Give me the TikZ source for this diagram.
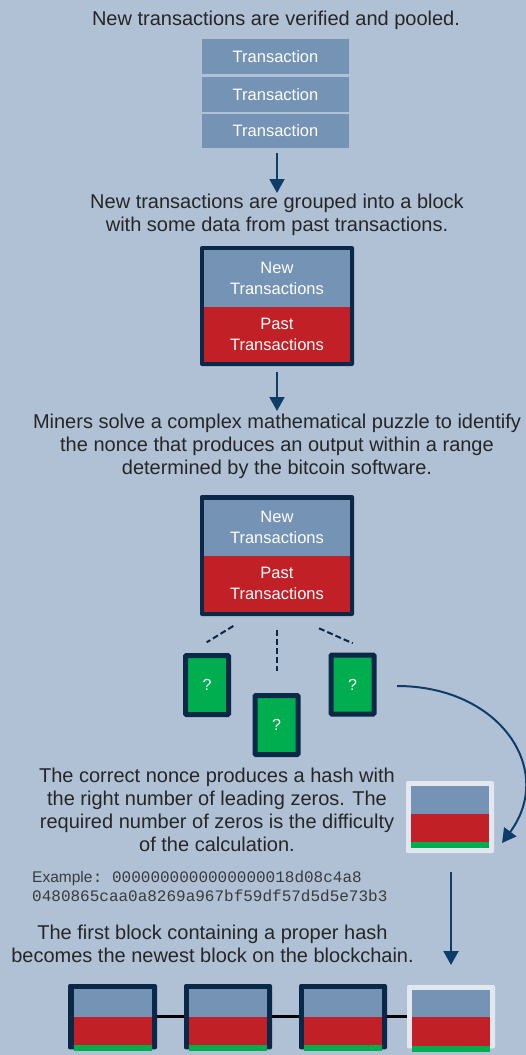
\documentclass[tikz,border=0pt]{standalone}
\usepackage{fontspec}
\setmainfont{Liberation Sans}
\setmonofont{Liberation Mono}
\usetikzlibrary{arrows.meta}
\definecolor{bgc}{HTML}{B0C1D6}
\definecolor{boxblue}{HTML}{7593B5}
\definecolor{redc}{HTML}{C02026}
\definecolor{greenc}{HTML}{00AE4F}
\definecolor{navy}{HTML}{0A2847}
\definecolor{lightc}{HTML}{E3E8F0}
\definecolor{arrc}{HTML}{0F3D69}
\definecolor{txtc}{HTML}{262626}
\definecolor{monoc}{HTML}{3A3A3A}
\begin{document}
\begin{tikzpicture}[x=1pt,y=-1pt,
  txt/.style={text=txtc, font=\fontsize{20}{23}\selectfont, align=center, inner sep=0},
  wtxt/.style={text=white, font=\fontsize{16.5}{21}\selectfont, align=center, inner sep=0},
  tbox/.style={fill=boxblue, text=white, font=\fontsize{16.5}{20}\selectfont, minimum width=147, inner sep=0},
  navyblk/.style={fill=navy, rounded corners=2pt, inner sep=0},
  lightblk/.style={fill=lightc, rounded corners=2pt, inner sep=0},
  nonce/.style={fill=greenc, draw=navy, line width=5pt, rounded corners=1pt, minimum width=43, minimum height=59, inner sep=0, text=white, font=\fontsize{16}{20}\selectfont},
  arr/.style={draw=arrc, line width=2pt, -{Triangle[width=15pt,length=14pt]}},
  guess/.style={draw=navy, line width=2pt, dash pattern=on 6pt off 3pt},
  link/.style={draw=black, line width=3pt},
  monot/.style={text=monoc, inner sep=0, anchor=base west, font=\fontsize{16}{20}\ttfamily}
]
\fill[bgc] (0,0) rectangle (526,1055);
\useasboundingbox (0,0) rectangle (526,1055);
\clip (0,0) rectangle (526,1055);

% step 1
\node[txt] (t1) at (276,20) {New transactions are verified and pooled.};
\node[tbox, minimum height=35] (tx1) at (275.5,56.5) {Transaction};
\node[tbox, minimum height=35] (tx2) at (275.5,94.5) {Transaction};
\node[tbox, minimum height=34] (tx3) at (275.5,131) {Transaction};
\coordinate (a1e) at (277,193);
\draw[arr] (277,153) -- (a1e);

% step 2
\node[txt] (t2) at (277,214.5) {New transactions are grouped into a block\\with some data from past transactions.};
\node[navyblk, minimum width=154, minimum height=120] (blk1) at (277,306) {};
\fill[boxblue] (204.3,250) rectangle (349.7,306.7);
\fill[redc] (204.3,306.7) rectangle (349.7,361.7);
\node[wtxt] (blk1n) at (277,278.3) {New\\Transactions};
\node[wtxt] (blk1p) at (277,334.3) {Past\\Transactions};
\coordinate (a2e) at (277,411);
\draw[arr] ([yshift=-6pt]blk1.south) -- (a2e);

% step 3
\node[txt] (t3) at (277,446.5) {Miners solve a complex mathematical puzzle to identify\\the nonce that produces an output within a range\\determined by the bitcoin software.};
\node[navyblk, minimum width=154, minimum height=121] (blk2) at (277,555.5) {};
\fill[boxblue] (204.3,499.5) rectangle (349.7,555.7);
\fill[redc] (204.3,555.7) rectangle (349.7,611.7);
\node[wtxt] (blk2n) at (277,527.6) {New\\Transactions};
\node[wtxt] (blk2p) at (277,583.7) {Past\\Transactions};

% dashed guesses
\coordinate (d1a) at (233.3,626); \coordinate (d1b) at (206.7,642.3);
\coordinate (d2a) at (276.7,630); \coordinate (d2b) at (276.7,670.7);
\coordinate (d3a) at (319,628.3); \coordinate (d3b) at (352.7,643.3);
\draw[guess] (d1a) -- (d1b);
\draw[guess] (d2a) -- (d2b);
\draw[guess] (d3a) -- (d3b);

\node[nonce] (q1) at (207,685) {?};
\node[nonce] (q2) at (276.5,725) {?};
\node[nonce] (q3) at (352.5,684.5) {?};

% hash block
\node[lightblk, minimum width=88, minimum height=72] (hashblk) at (450,817) {};
\fill[boxblue] (411,786) rectangle (489,814);
\fill[redc] (411,814) rectangle (489,841.7);
\fill[greenc] (411,841.7) rectangle (489,848.3);

\coordinate (cs) at (397,686);
\coordinate (ce) at (502,843);
\draw[arr] (cs) .. controls (500,686) and (556,770) .. (ce);

\node[txt] (t4) at (217,810) {The correct nonce produces a hash with\\the right number of leading zeros. The\\required number of zeros is the difficulty\\of the calculation.};

\node[inner sep=0, anchor=base west, text=monoc, font=\fontsize{15.5}{20}\selectfont] (ex) at (32,882.5) {Example};
\node[monot] (ex1) at (ex.base east) {:\ 0000000000000000018d08c4a8};
\node[monot] (ex2) at (32,901.7) {0480865caa0a8269a967bf59df57d5d5e73b3};

\coordinate (a3s) at (451,872);
\coordinate (a3e) at (451,965);
\draw[arr] (a3s) -- (a3e);

% step 4
\node[txt] (t5) at (212.5,943.5) {The first block containing a proper hash\\becomes the newest block on the blockchain.};

% chain
\node[navyblk, minimum width=89, minimum height=65.4] (c1) at (112.5,1016.7) {};
\node[navyblk, minimum width=88, minimum height=65.4] (c2) at (228,1016.7) {};
\node[navyblk, minimum width=88, minimum height=65.4] (c3) at (343,1016.7) {};
\node[lightblk, minimum width=88, minimum height=63.4] (c4) at (451,1016.7) {};
\draw[link] (c1) -- (c2);
\draw[link] (c2) -- (c3);
\draw[link] (c3) -- (c4);
\foreach \xl/\xr in {73.5/151.7, 188.8/267.2, 303.8/382.2}{
  \fill[boxblue] (\xl,989.3) rectangle (\xr,1016.5);
  \fill[redc] (\xl,1016.5) rectangle (\xr,1045);
  \fill[greenc] (\xl,1045) rectangle (\xr,1051);
}
\fill[boxblue] (412.3,990) rectangle (490,1017);
\fill[redc] (412.3,1017) rectangle (490,1046);
\fill[greenc] (412.3,1046) rectangle (490,1052);
\end{tikzpicture}
\end{document}
